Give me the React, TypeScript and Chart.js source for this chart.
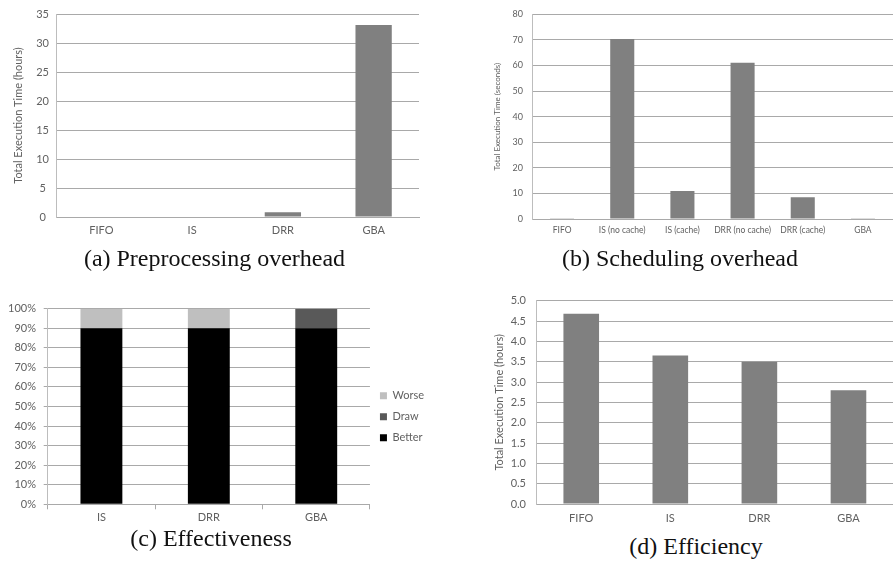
import React, { useEffect, useRef } from 'react';
import { Chart, registerables } from 'chart.js';

Chart.register(...registerables);

// ---------- data ----------
const preprocCategories = ['FIFO', 'IS', 'DRR', 'GBA'];
const preprocHours = [0, 0, 0.8, 33.1];
const preprocTicks = { min: 0, max: 35, step: 5 };

const schedCategories = ['FIFO', 'IS (no cache)', 'IS (cache)', 'DRR (no cache)', 'DRR (cache)', 'GBA'];
const schedSeconds = [0.3, 70.4, 10.9, 61.1, 8.5, 0.05];
const schedTicks = { min: 0, max: 80, step: 10 };

const effCategories = ['IS', 'DRR', 'GBA'];
const effBetter = [90, 90, 90];
const effDraw = [0, 0, 10];
const effWorse = [10, 10, 0];
const effTicks = { min: 0, max: 100, step: 10 };

const efficiencyCategories = ['FIFO', 'IS', 'DRR', 'GBA'];
const efficiencyHours = [4.68, 3.65, 3.5, 2.8];
const efficiencyTicks = { min: 0, max: 5, step: 0.5 };

// ---------- styles ----------
const BAR = '#808080';
const GRID = '#a9a9a9';
const AXIS = '#bdbdbd';
const TEXT = '#616161';
const FONT = 'Lato';
const SERIF = '"Liberation Serif", "DejaVu Serif", serif';

Chart.defaults.font.family = FONT;
Chart.defaults.color = TEXT;

type YOpts = {
  ticks: { min: number; max: number; step: number };
  width: number;
  size: number;
  pad: number;
  crossAlign?: 'near' | 'center' | 'far';
  tickLen?: number;
  fmt?: (v: number) => string;
  title?: string;
  titleSize?: number;
  titlePad?: number;
};

function yScale(o: YOpts): any {
  return {
    min: o.ticks.min,
    max: o.ticks.max,
    stacked: true,
    ticks: {
      stepSize: o.ticks.step,
      padding: o.pad,
      crossAlign: o.crossAlign || 'near',
      font: { family: FONT, size: o.size },
      color: TEXT,
      callback: o.fmt ? (v: any) => o.fmt!(Number(v)) : undefined,
    },
    grid: {
      color: GRID,
      drawTicks: !!o.tickLen,
      tickLength: o.tickLen || 0,
    },
    border: { color: AXIS, width: 1 },
    title: o.title
      ? {
          display: true,
          text: o.title,
          font: { family: FONT, size: o.titleSize || o.size },
          color: TEXT,
          padding: { top: o.titlePad || 0, bottom: 0 },
        }
      : { display: false },
    afterFit: (s: any) => {
      s.width = o.width;
    },
  };
}

function xScale(height: number, size: number, pad: number, tickLen = 0): any {
  return {
    stacked: true,
    offset: true,
    grid: {
      display: true,
      drawOnChartArea: false,
      drawTicks: tickLen > 0,
      tickLength: tickLen,
      color: GRID,
      offset: true,
    },
    border: { color: GRID, width: 1 },
    ticks: {
      padding: pad,
      font: { family: FONT, size },
      color: TEXT,
      maxRotation: 0,
      minRotation: 0,
      autoSkip: false,
    },
    afterFit: (s: any) => {
      s.height = height;
    },
  };
}

function barDataset(data: number[], color: string, label = '') {
  return {
    label,
    data,
    backgroundColor: color,
    borderWidth: 0,
    categoryPercentage: 1,
    barPercentage: 0.4,
  };
}

const configA: any = {
  type: 'bar',
  data: { labels: preprocCategories, datasets: [barDataset(preprocHours, BAR)] },
  options: {
    animation: false,
    responsive: false,
    layout: { padding: { left: 0, right: 11, top: 14, bottom: 0 } },
    plugins: { legend: { display: false }, tooltip: { enabled: false } },
    scales: {
      x: xScale(28, 11, 7),
      y: yScale({
        ticks: preprocTicks,
        width: 56,
        size: 11,
        pad: 7,
        crossAlign: 'center',
        title: 'Total Execution Time (hours)',
        titleSize: 11,
        titlePad: 11.4,
      }),
    },
  },
};

const configB: any = {
  type: 'bar',
  data: { labels: schedCategories, datasets: [barDataset(schedSeconds, BAR)] },
  options: {
    animation: false,
    responsive: false,
    layout: { padding: { left: 0, right: 0, top: 14, bottom: 0 } },
    plugins: { legend: { display: false }, tooltip: { enabled: false } },
    scales: {
      x: xScale(26, 8.5, 6.6),
      y: yScale({
        ticks: schedTicks,
        width: 86,
        size: 9,
        pad: 9,
        title: 'Total Execution Time (seconds)',
        titleSize: 8,
        titlePad: 46.9,
      }),
    },
  },
};

const configC: any = {
  type: 'bar',
  data: {
    labels: effCategories,
    datasets: [
      { ...barDataset(effBetter, '#000000', 'Better'), barPercentage: 0.39 },
      { ...barDataset(effDraw, '#595959', 'Draw'), barPercentage: 0.39 },
      { ...barDataset(effWorse, '#bfbfbf', 'Worse'), barPercentage: 0.39 },
    ],
  },
  options: {
    animation: false,
    responsive: false,
    layout: { padding: { left: 0, right: 12, top: 28.7, bottom: 0 } },
    plugins: {
      tooltip: { enabled: false },
      legend: {
        display: true,
        position: 'right',
        reverse: true,
        labels: {
          boxWidth: 7,
          boxHeight: 7,
          padding: 10,
          color: TEXT,
          font: { family: FONT, size: 11 },
        },
      },
    },
    scales: {
      x: xScale(20.7, 11, 2, 5),
      y: yScale({
        ticks: effTicks,
        width: 47.7,
        size: 11,
        pad: 7.7,
        tickLen: 4,
        fmt: (v) => `${v}%`,
      }),
    },
  },
};

const configD: any = {
  type: 'bar',
  data: { labels: efficiencyCategories, datasets: [barDataset(efficiencyHours, BAR)] },
  options: {
    animation: false,
    responsive: false,
    layout: { padding: { left: 0, right: 0, top: 20.7, bottom: 0 } },
    plugins: { legend: { display: false }, tooltip: { enabled: false } },
    scales: {
      x: xScale(21, 11, 7.4),
      y: yScale({
        ticks: efficiencyTicks,
        width: 90.7,
        size: 11,
        pad: 10.7,
        fmt: (v) => v.toFixed(1),
        title: 'Total Execution Time (hours)',
        titleSize: 11,
        titlePad: 46.4,
      }),
    },
  },
};

function ChartBox(props: { left: number; top: number; width: number; height: number; config: any }) {
  const ref = useRef<HTMLCanvasElement>(null);
  useEffect(() => {
    const chart = new Chart(ref.current as HTMLCanvasElement, props.config);
    return () => chart.destroy();
  }, []);
  return (
    <canvas
      ref={ref}
      width={props.width}
      height={props.height}
      style={{ position: 'absolute', left: props.left, top: props.top, width: props.width, height: props.height }}
    />
  );
}

function Caption(props: { cx: number; cy: number; text: string }) {
  return (
    <div
      style={{
        position: 'absolute',
        left: props.cx,
        top: props.cy - 14,
        height: 28,
        lineHeight: '28px',
        transform: 'translateX(-50%)',
        whiteSpace: 'nowrap',
        fontFamily: SERIF,
        fontSize: 24,
        color: '#111',
      }}
    >
      {props.text}
    </div>
  );
}

export default function App() {
  return (
    <div style={{ position: 'fixed', left: 0, top: 0, width: 893, height: 563, background: '#fff', overflow: 'hidden' }}>
      <ChartBox left={0} top={0} width={430} height={245} config={configA} />
      <ChartBox left={446} top={0} width={447} height={245} config={configB} />
      <ChartBox left={0} top={280} width={446} height={245} config={configC} />
      <ChartBox left={446} top={280} width={447} height={245} config={configD} />
      <Caption cx={214.5} cy={258} text="(a) Preprocessing overhead" />
      <Caption cx={680} cy={258} text="(b) Scheduling overhead" />
      <Caption cx={211} cy={538} text="(c) Effectiveness" />
      <Caption cx={696} cy={546} text="(d) Efficiency" />
    </div>
  );
}
